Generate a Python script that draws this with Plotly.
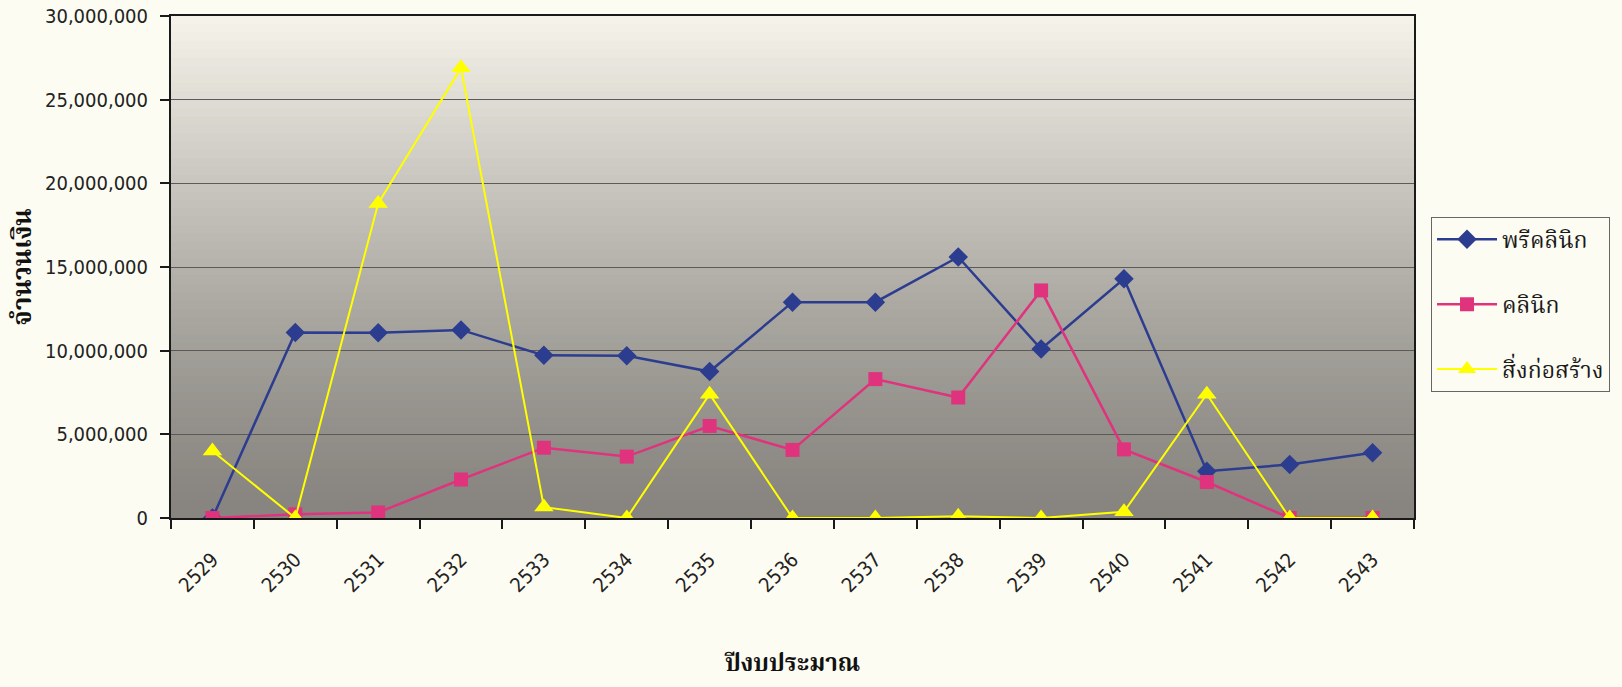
import plotly.graph_objects as go

years = ["2529", "2530", "2531", "2532", "2533", "2534", "2535", "2536",
         "2537", "2538", "2539", "2540", "2541", "2542", "2543"]
preclinic = [0, 11090000, 11070000, 11240000, 9720000, 9700000, 8750000, 12900000,
             12900000, 15600000, 10100000, 14300000, 2800000, 3200000, 3900000]
clinic = [0, 220000, 330000, 2300000, 4200000, 3670000, 5500000, 4070000,
          8300000, 7200000, 13600000, 4100000, 2150000, 0, 0]
building = [4000000, 0, 18800000, 26900000, 650000, 0, 7400000, 0,
            0, 100000, 0, 370000, 7400000, 0, 0]
names = ["พรีคลินิก", "คลินิก", "สิ่งก่อสร้าง"]
y_ticks = [0, 5000000, 10000000, 15000000, 20000000, 25000000, 30000000]

thai_font = "Noto Serif Thai, Noto Sans Thai, Tahoma, Loma, Garuda, serif"
num_font = "Liberation Sans Narrow, Arial Narrow, DejaVu Sans Condensed, sans-serif"

fig = go.Figure()
fig.add_trace(go.Scatter(x=years, y=preclinic, name=names[0], mode="lines+markers",
                         line=dict(color="#2c3d8f", width=2.5),
                         marker=dict(symbol="diamond", size=15, color="#2c3d8f"),
                         legendgroup="a"))
fig.add_trace(go.Scatter(x=years, y=clinic, name=names[1], mode="lines+markers",
                         line=dict(color="#e0337d", width=2.5),
                         marker=dict(symbol="square", size=14, color="#e0337d"),
                         legendgroup="b"))
fig.add_trace(go.Scatter(x=years, y=building, name=names[2], mode="lines+markers",
                         line=dict(color="#ffff00", width=2),
                         marker=dict(symbol="triangle-up", size=17, color="#ffff00"),
                         legendgroup="c"))

# gradient plot background (light top -> dark gray bottom)
shapes = []
n = 60
top_c = (246, 244, 235)
bot_c = (136, 133, 128)
for i in range(n):
    t = (i + 0.5) / n  # 0 bottom -> 1 top
    f = t ** 1.3
    c = tuple(int(bot_c[k] + (top_c[k] - bot_c[k]) * f) for k in range(3))
    shapes.append(dict(type="rect", xref="x domain", yref="y domain",
                       x0=0, x1=1, y0=i / n, y1=(i + 1) / n + 0.002,
                       fillcolor="rgb(%d,%d,%d)" % c, line=dict(width=0),
                       layer="below"))

fig.update_layout(
    width=1622, height=687,
    margin=dict(l=171, r=206, t=16, b=169),
    paper_bgcolor="#fdfcf2",
    plot_bgcolor="rgba(0,0,0,0)",
    shapes=shapes,
    showlegend=True,
    legend=dict(x=1.0137, y=0.60, xanchor="left", yanchor="top",
                bgcolor="#fdfcf2", bordercolor="#666666", borderwidth=1,
                font=dict(family=thai_font, size=23, color="#1a1a1a"),
                tracegroupgap=32, itemwidth=60),
    xaxis=dict(
        type="category", tickson="boundaries", showgrid=False,
        range=[-0.5, len(years) - 0.5], automargin=False,
        showline=True, linecolor="#1a1a1a", linewidth=2, mirror=True,
        ticks="outside", ticklen=9, tickwidth=2, tickcolor="#1a1a1a",
        tickangle=-45, ticklabelstandoff=20,
        tickfont=dict(family=num_font, size=20, color="#222222"),
        title=dict(text="<b>ปีงบประมาณ</b>", standoff=58,
                   font=dict(family=thai_font, size=24, color="#111111")),
    ),
    yaxis=dict(
        range=[0, 30000000], tickvals=y_ticks, tickformat=",d", automargin=False,
        showgrid=True, gridcolor="#5a5a5a", gridwidth=1, zeroline=False,
        showline=True, linecolor="#1a1a1a", linewidth=2, mirror=True,
        ticks="outside", ticklen=9, tickwidth=2, tickcolor="#1a1a1a",
        ticklabelstandoff=8,
        tickfont=dict(family=num_font, size=20, color="#222222"),
        title=dict(text="<b>จำนวนเงิน</b>", standoff=4,
                   font=dict(family=thai_font, size=26, color="#111111")),
    ),
)

fig.write_html("out.html", config={"displayModeBar": False},
               post_script="document.body.style.margin='0';document.body.style.background='#fdfcf2';")
